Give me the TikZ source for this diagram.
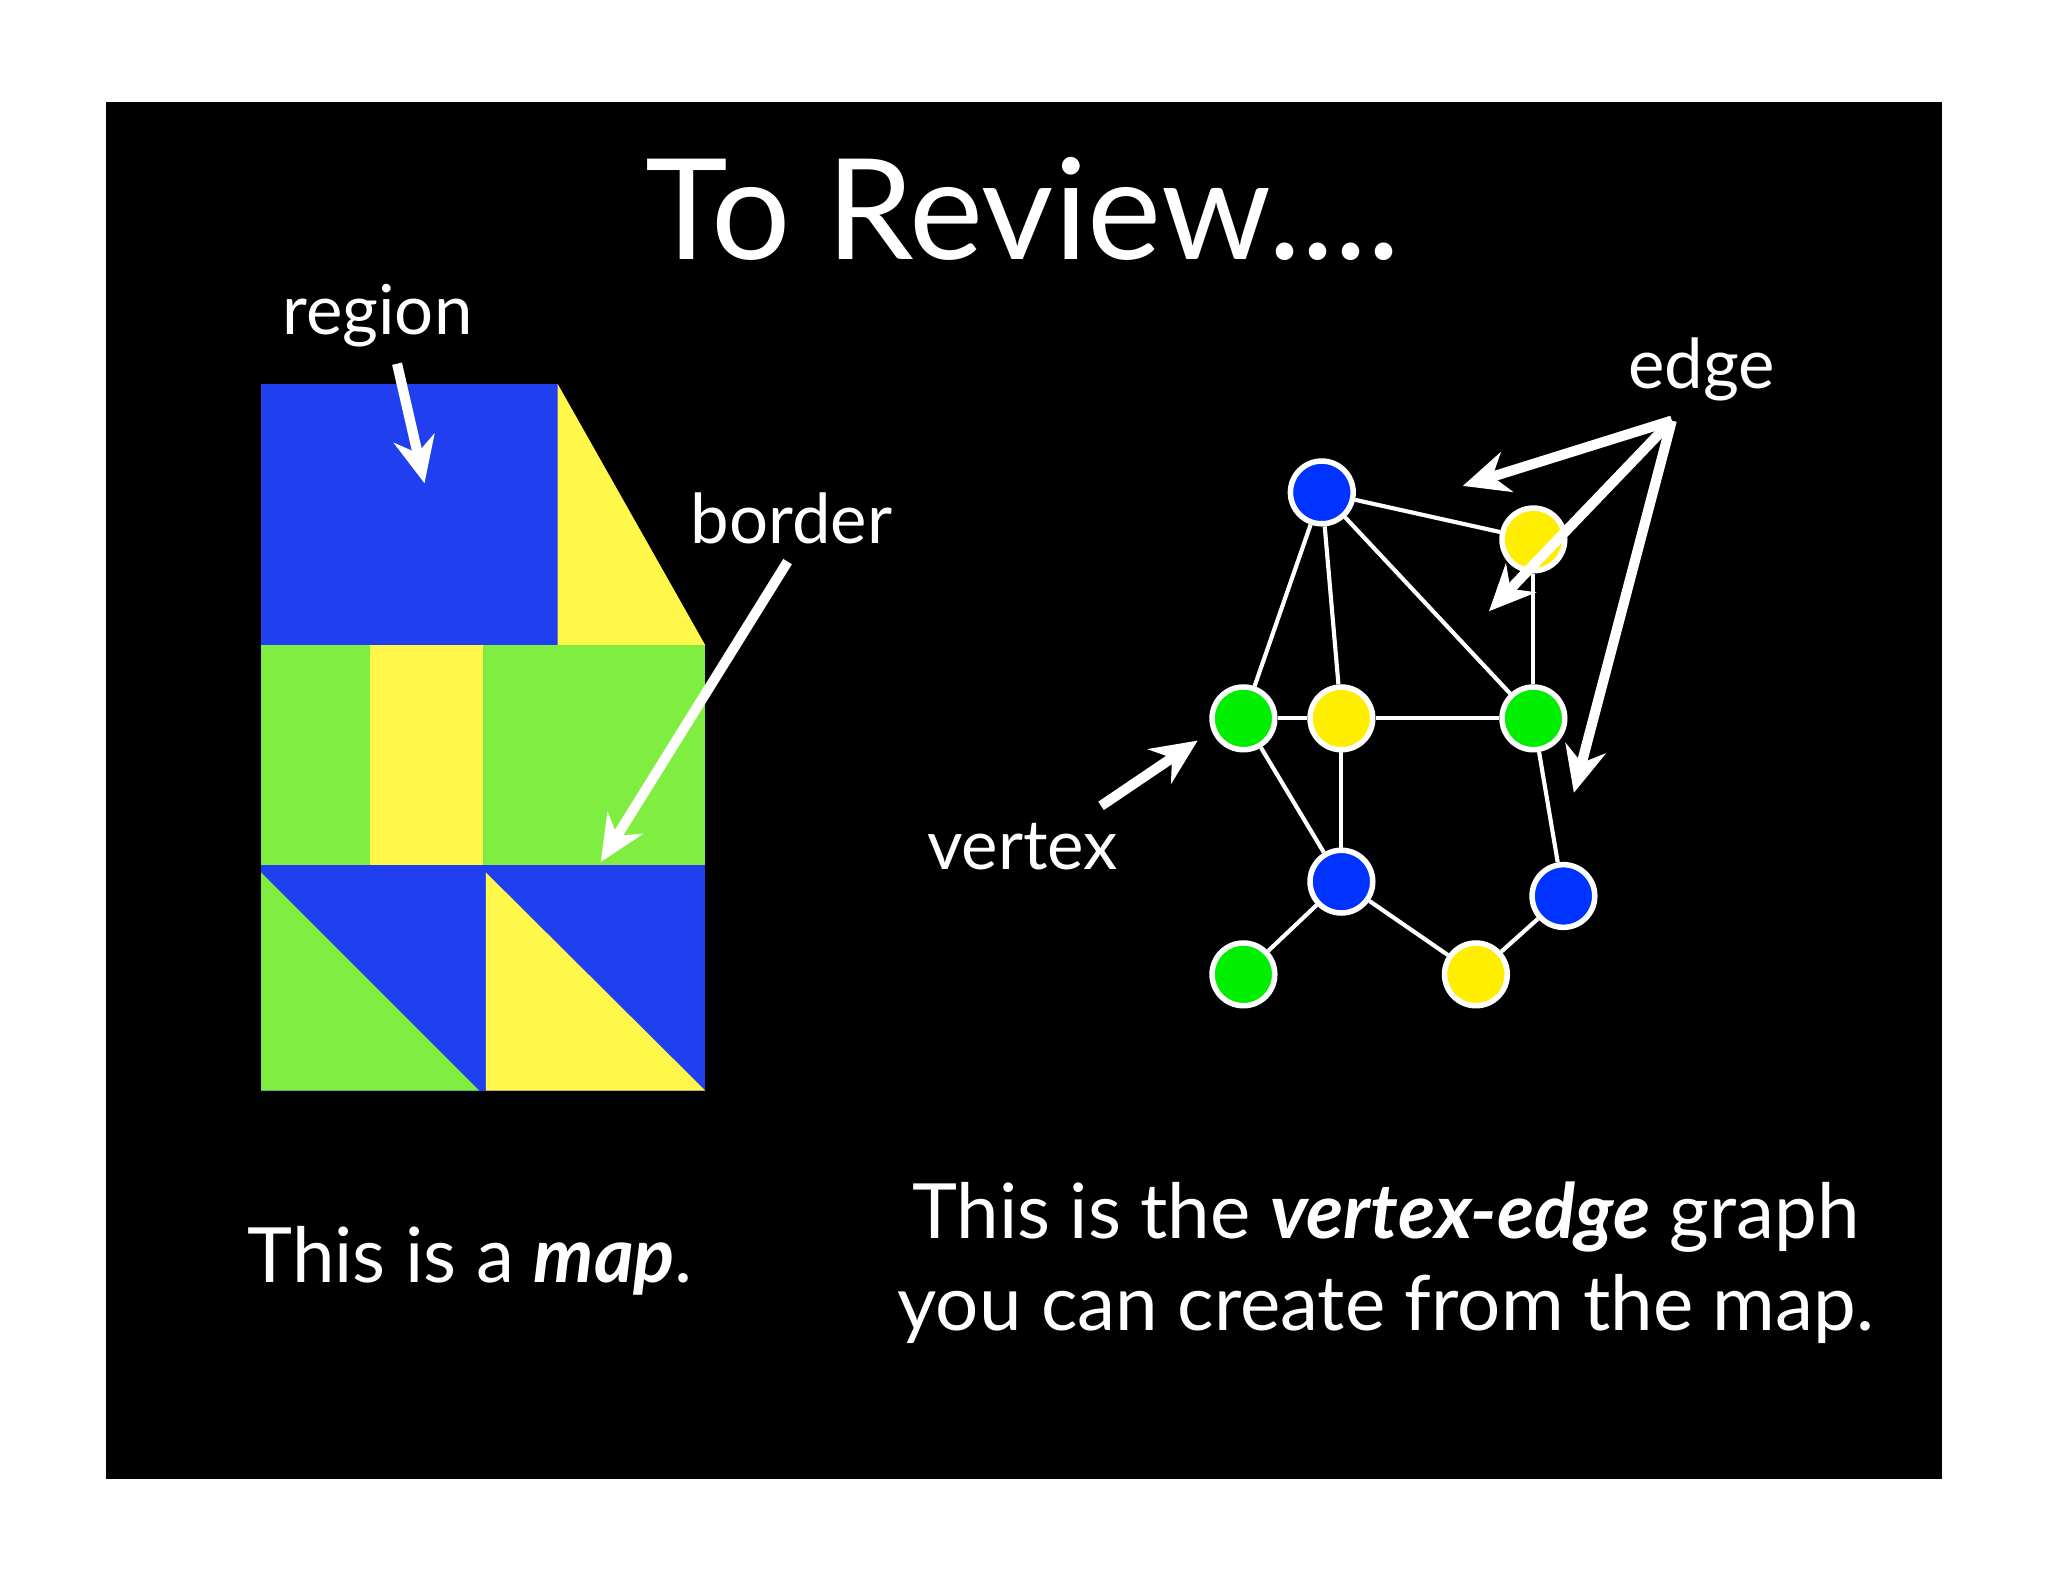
\documentclass[tikz,border=0pt]{standalone}
\usepackage{fontspec}
\setmainfont{Lato}
\usetikzlibrary{arrows.meta}
\begin{document}
\begin{tikzpicture}[x=0.01cm,y=-0.01cm,
  lbl/.style={text=white,font=\fontsize{15}{18}\selectfont},
  arr/.style={white,line width=2.2pt,-{Stealth[length=10pt,width=9pt]}},
  vtx/.style={circle,draw=white,line width=1.2pt,minimum size=0.48cm,inner sep=0pt},
  edg/.style={white,line width=0.9pt}]
\useasboundingbox (0,0) rectangle (1568,1212);
\fill[white] (0,0) rectangle (1568,1212);
\fill[black] (81,78) rectangle (1487,1132);
\definecolor{mblue}{HTML}{2040F0}
\definecolor{mgreen}{HTML}{80EE40}
\definecolor{myellow}{HTML}{FFF84A}
\definecolor{nblue}{HTML}{0033FF}
\definecolor{ngreen}{HTML}{00EE00}
\definecolor{nyellow}{HTML}{FFEE00}
\node[text=white,font=\fontsize{30.5}{36}\selectfont] (title) at (783,160) {To Review....};
% map
\fill[mblue] (200,294) rectangle (427,494);
\fill[myellow] (427,294) -- (540,494) -- (427,494) -- cycle;
\fill[mgreen] (200,494) rectangle (283,662);
\fill[myellow] (283,494) rectangle (370,662);
\fill[mgreen] (370,494) rectangle (540,662);
\fill[mblue] (200,662) rectangle (540,835);
\fill[mgreen] (200,668) -- (200,835) -- (367,835) -- cycle;
\fill[myellow] (372,668) -- (372,835) -- (540,835) -- cycle;
\node[lbl] (region) at (289,242) {region};
\node[lbl] (border) at (606,397) {border};
\coordinate (rt) at (325,370);
\coordinate (bt) at (460,660);
\draw[arr] (region.south) ++(15,0) -- (rt);
\draw[arr] (603,430) -- (bt);
% graph
\node[vtx,fill=nblue] (A) at (1012,377) {};
\node[vtx,fill=nyellow] (B) at (1174,413) {};
\node[vtx,fill=ngreen] (C) at (952,550) {};
\node[vtx,fill=nyellow] (D) at (1027,550) {};
\node[vtx,fill=ngreen] (E) at (1174,550) {};
\node[vtx,fill=nblue] (F) at (1027,675) {};
\node[vtx,fill=nblue] (G) at (1197,686) {};
\node[vtx,fill=ngreen] (H) at (952,746) {};
\node[vtx,fill=nyellow] (I) at (1130,746) {};
\foreach \a/\b in {A/B,A/C,A/D,A/E,B/E,C/D,D/E,C/F,D/F,E/G,F/H,F/I,I/G}
  \draw[edg] (\a) -- (\b);
\node[lbl] (edge) at (1303,283) {edge};
\node[lbl] (vertex) at (783,648) {vertex};
\coordinate (eo) at (1280,322);
\coordinate (e1) at (1120,372);
\coordinate (e2) at (1140,468);
\coordinate (e3) at (1205,607);
\draw[arr] (eo) -- (e1);
\draw[arr] (eo) -- (e2);
\draw[arr] (eo) -- (e3);
\coordinate (vt) at (917,567);
\draw[arr] (843,617) -- (vt);
% captions
\node[text=white,font=\fontsize{16.6}{20}\selectfont] (cap1) at (360,965) {This is a \textbf{\textit{map}}.};
\node[text=white,font=\fontsize{16.6}{20}\selectfont,align=center] (cap2) at (1061,967) {This is the \textbf{\textit{vertex-edge}} graph\\you can create from the map.};
\end{tikzpicture}
\end{document}
